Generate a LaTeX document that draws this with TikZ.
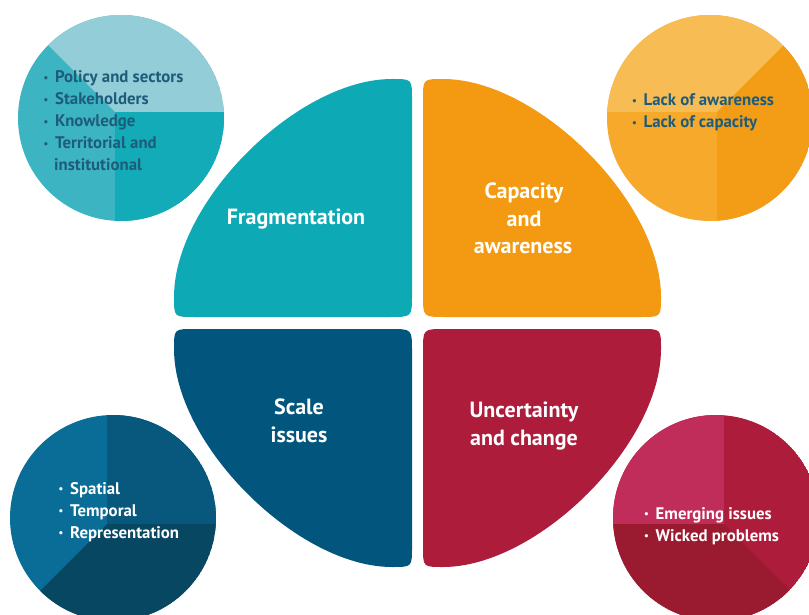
\documentclass[tikz,border=0pt]{standalone}
\usepackage{fontspec}
\setmainfont{PT Sans}
\definecolor{tealM}{HTML}{0DAAB6}
\definecolor{tealL}{HTML}{93CDD7}
\definecolor{tealC}{HTML}{3DB4C1}
\definecolor{tealD}{HTML}{12ABB7}
\definecolor{orM}{HTML}{F39A12}
\definecolor{orL}{HTML}{F8BC55}
\definecolor{orC}{HTML}{F6A92B}
\definecolor{orD}{HTML}{F39C16}
\definecolor{blM}{HTML}{02567E}
\definecolor{blC}{HTML}{0A6D97}
\definecolor{blU}{HTML}{08577D}
\definecolor{blD}{HTML}{074762}
\definecolor{rdM}{HTML}{AE1C3B}
\definecolor{rdP}{HTML}{C12D5A}
\definecolor{rdC}{HTML}{AE1C3B}
\definecolor{rdD}{HTML}{9A1B2F}
\definecolor{txtD}{HTML}{1D5C7A}
\newcommand\bul{\makebox[11.5pt][l]{\raisebox{1.4pt}{\fontsize{10.5}{10}\selectfont\textbullet}}}
\tikzset{
  petal/.pic={\path[pic actions] (-22,0) -- (-218,0) .. controls (-238,0) .. (-238,-20)
      .. controls (-238,-115) and (-115,-238) .. (-20,-238)
      .. controls (0,-238) .. (0,-218) -- (0,-22) .. controls (0,0) .. (-22,0) -- cycle;},
  biglabel/.style={font=\fontsize{22}{26}\selectfont\bfseries, text=white, anchor=base, inner sep=0pt},
  itemlabel/.style={font=\fontsize{16.8}{20}\selectfont\bfseries, anchor=base west, inner sep=0pt},
}
\begin{document}
\begin{tikzpicture}[x=1pt,y=-1pt]
\clip (0,0) rectangle (809,615);
\fill[white] (0,0) rectangle (809,615);
% petals
\pic[fill=tealM] at (412,317) {petal};
\pic[fill=orM, xscale=-1] at (423,317) {petal};
\pic[fill=blM, yscale=-1] at (412,329) {petal};
\pic[fill=rdM, xscale=-1, yscale=-1] at (423,329) {petal};
% top-left circle
\begin{scope}
\clip (121,118) circle[radius=103];
\fill[tealC] (121,118) circle[radius=103];
\fill[tealL] (115,112) -- (415,112) -- (415,-188) -- (-185,-188) -- cycle;
\fill[tealD] (115,112) -- (415,112) -- (415,412) -- (115,412) -- cycle;
\end{scope}
% top-right circle
\begin{scope}
\clip (710,118) circle[radius=103];
\fill[orC] (710,118) circle[radius=103];
\fill[orL] (717,112) -- (417,112) -- (417,-188) -- (1017,-188) -- cycle;
\fill[orD] (717,112) -- (1017,-188) -- (1017,412) -- (717,412) -- cycle;
\end{scope}
% bottom-left circle
\begin{scope}
\clip (113,518) circle[radius=103];
\fill[blC] (113,518) circle[radius=103];
\fill[blU] (107,524) -- (107,224) -- (407,224) -- (407,524) -- cycle;
\fill[blD] (107,524) -- (407,524) -- (407,824) -- (-193,824) -- cycle;
\end{scope}
% bottom-right circle
\begin{scope}
\clip (716,518) circle[radius=103];
\fill[rdC] (716,518) circle[radius=103];
\fill[rdP] (724,524) -- (724,224) -- (424,224) -- (424,524) -- cycle;
\fill[rdD] (724,524) -- (424,524) -- (424,824) -- (1024,824) -- cycle;
\end{scope}
% central labels
\node[biglabel] (frag) at (296,225) {Fragmentation};
\node[biglabel] (cap1) at (524,198) {Capacity};
\node[biglabel] (cap2) at (524,226) {and};
\node[biglabel] (cap3) at (523,253) {awareness};
\node[biglabel] (sc1) at (299,414) {Scale};
\node[biglabel] (sc2) at (299,442) {issues};
\node[biglabel] (un1) at (524,417) {Uncertainty};
\node[biglabel] (un2) at (524,445) {and change};
% top-left items
\node[itemlabel, text=txtD] (tl1) at (43.5,83) {\bul Policy and sectors};
\node[itemlabel, text=txtD] (tl2) at (43.5,105) {\bul Stakeholders};
\node[itemlabel, text=txtD] (tl3) at (43.5,127) {\bul Knowledge};
\node[itemlabel, text=txtD] (tl4) at (43.5,149) {\bul Territorial and};
\node[itemlabel, text=txtD] (tl5) at (54,171) {institutional};
% top-right items
\node[itemlabel, text=txtD] (tr1) at (632,106) {\bul Lack of awareness};
\node[itemlabel, text=txtD] (tr2) at (632,128) {\bul Lack of capacity};
% bottom-left items
\node[itemlabel, text=white] (bl1) at (58.5,494) {\bul Spatial};
\node[itemlabel, text=white] (bl2) at (58.5,516) {\bul Temporal};
\node[itemlabel, text=white] (bl3) at (58.5,538) {\bul Representation};
% bottom-right items
\node[itemlabel, text=white] (br1) at (644,519) {\bul Emerging issues};
\node[itemlabel, text=white] (br2) at (644,541) {\bul Wicked problems};
\end{tikzpicture}
\end{document}
